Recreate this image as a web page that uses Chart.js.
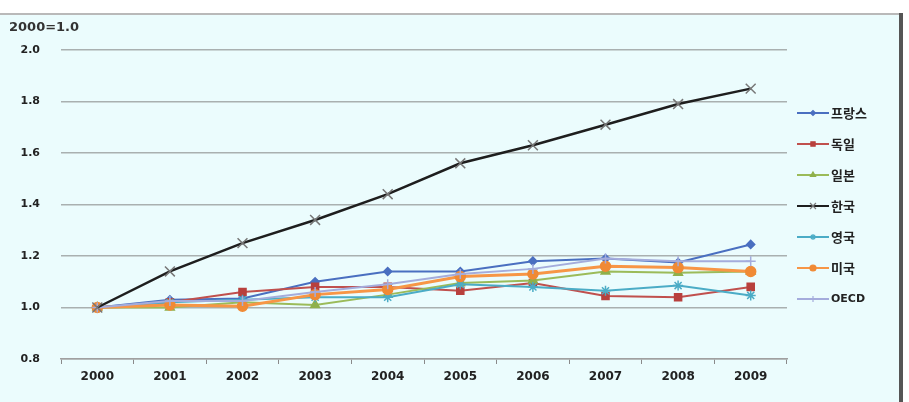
<!DOCTYPE html>
<html>
<head>
<meta charset="utf-8">
<script src="https://cdn.jsdelivr.net/npm/chart.js@4.4.1/dist/chart.umd.min.js"></script>
<style>
html,body{margin:0;padding:0;background:#fff;}
#wrap{position:relative;width:909px;height:402px;}
canvas{display:block;}
</style>
</head>
<body>
<div id="wrap"><canvas id="c" width="909" height="402"></canvas></div>
<script>
const years = ['2000','2001','2002','2003','2004','2005','2006','2007','2008','2009'];
const yTicks = [0.8, 1.0, 1.2, 1.4, 1.6, 1.8, 2.0];
const unitLabel = '2000=1.0';
const seriesNames = ['프랑스','독일','일본','한국','영국','미국','OECD'];
const france  = [1.00, 1.03, 1.035, 1.10, 1.14, 1.14, 1.18, 1.19, 1.175, 1.245];
const germany = [1.00, 1.02, 1.06, 1.08, 1.08, 1.065, 1.095, 1.045, 1.04, 1.08];
const japan   = [1.00, 1.00, 1.02, 1.01, 1.05, 1.095, 1.105, 1.14, 1.135, 1.14];
const korea   = [1.00, 1.14, 1.25, 1.34, 1.44, 1.56, 1.63, 1.71, 1.79, 1.85];
const uk      = [1.00, 1.02, 1.03, 1.04, 1.04, 1.09, 1.08, 1.065, 1.085, 1.047];
const usa     = [1.00, 1.01, 1.005, 1.05, 1.07, 1.12, 1.13, 1.16, 1.155, 1.14];
const oecd    = [1.00, 1.025, 1.025, 1.06, 1.09, 1.13, 1.15, 1.19, 1.18, 1.18];

const styles = [
  {c:'#4a6fc0', ps:'rectRot', r:4, w:2, pc:'#4a6fc0'},
  {c:'#c0504d', ps:'rect', r:5, w:2, pc:'#b8403d'},
  {c:'#9bbb59', ps:'triangle', r:5, w:2, pc:'#8fb04a'},
  {c:'#1e1e1e', ps:'crossRot', r:7, w:2.5, pc:'#777'},
  {c:'#4bacc6', ps:'star', r:5, w:2, pc:'#4bacc6'},
  {c:'#f79646', ps:'circle', r:5, w:3, pc:'#f08a35'},
  {c:'#a4acdc', ps:'cross', r:5, w:2, pc:'#a4acdc'}
];
const values = [france, germany, japan, korea, uk, usa, oecd];

const datasets = seriesNames.map((n,i)=>({
  label:n, data:values[i],
  borderColor:styles[i].c, backgroundColor:styles[i].pc,
  pointBorderColor:styles[i].pc, pointBackgroundColor:styles[i].pc,
  borderWidth:styles[i].w, pointStyle:styles[i].ps, pointRadius:styles[i].r,
  pointBorderWidth:1.5, tension:0, fill:false
}));
datasets.forEach((d,i)=>{ d.order = 10 - i; });
datasets[3].order = 0;

const FONT = '"DejaVu Sans", "Liberation Sans", sans-serif';

const bgPlugin = {
  id:'bg',
  beforeDraw(chart){
    const ctx = chart.ctx;
    ctx.save();
    ctx.fillStyle = '#ffffff';
    ctx.fillRect(0,0,909,402);
    ctx.fillStyle = '#ebfcfd';
    ctx.fillRect(0,14,900,388);
    ctx.fillStyle = '#b9b9b9';
    ctx.fillRect(0,13,900,2);
    ctx.fillStyle = '#555555';
    ctx.fillRect(899,13,4,389);
    ctx.fillStyle = '#333';
    ctx.font = 'bold 13px ' + FONT;
    ctx.textBaseline = 'middle';
    ctx.textAlign = 'left';
    ctx.fillText(unitLabel, 9, 28);
    ctx.restore();
  }
};

const legendPlugin = {
  id:'customLegend',
  afterDraw(chart){
    const ctx = chart.ctx;
    ctx.save();
    chart.data.datasets.forEach((d,i)=>{
      const y = 113 + i*31;
      ctx.strokeStyle = d.borderColor;
      ctx.lineWidth = Math.min(d.borderWidth, 2);
      ctx.beginPath(); ctx.moveTo(797,y); ctx.lineTo(829,y); ctx.stroke();
      if (Chart.helpers && Chart.helpers.drawPoint) {
        ctx.fillStyle = d.pointBackgroundColor;
        ctx.strokeStyle = d.pointBorderColor;
        ctx.lineWidth = 1.2;
        Chart.helpers.drawPoint(ctx, {pointStyle:d.pointStyle, radius:Math.max(2.5, d.pointRadius*0.6), rotation:0, borderWidth:1.2}, 813, y);
      }
      ctx.fillStyle = '#222';
      ctx.font = i === 6 ? 'bold 11px ' + FONT : 'bold 13px "Noto Sans CJK KR", sans-serif';
      ctx.textBaseline = 'middle';
      ctx.textAlign = 'left';
      ctx.fillText(d.label, 831, y);
    });
    ctx.restore();
  }
};

new Chart(document.getElementById('c'), {
  type:'line',
  data:{labels:years, datasets:datasets},
  options:{
    responsive:false, animation:false,
    layout:{padding:{top:50, left:0, right:122, bottom:0}},
    plugins:{legend:{display:false}, tooltip:{enabled:false}},
    scales:{
      x:{
        offset:true,
        grid:{display:true, offset:true, drawOnChartArea:false, drawTicks:true, tickLength:5, color:'#8a8a8a', lineWidth:1},
        border:{display:true, color:'#a0a0a0', width:1.5},
        ticks:{color:'#222', font:{family:FONT, size:12, weight:'bold'}, padding:6, maxRotation:0},
        afterFit(s){ s.height = 43; }
      },
      y:{
        min:0.8, max:2.0,
        afterBuildTicks(s){ s.ticks = yTicks.map(v=>({value:v})); },
        grid:{color:'#a9b0b0', lineWidth:1.5, drawTicks:false, tickLength:0},
        border:{display:false},
        ticks:{color:'#222', padding:21, font:{family:FONT, size:11, weight:'bold'}, callback:v=>Number(v).toFixed(1)},
        afterFit(s){ s.width = 61; }
      }
    }
  },
  plugins:[bgPlugin, legendPlugin]
});
</script>
</body>
</html>
